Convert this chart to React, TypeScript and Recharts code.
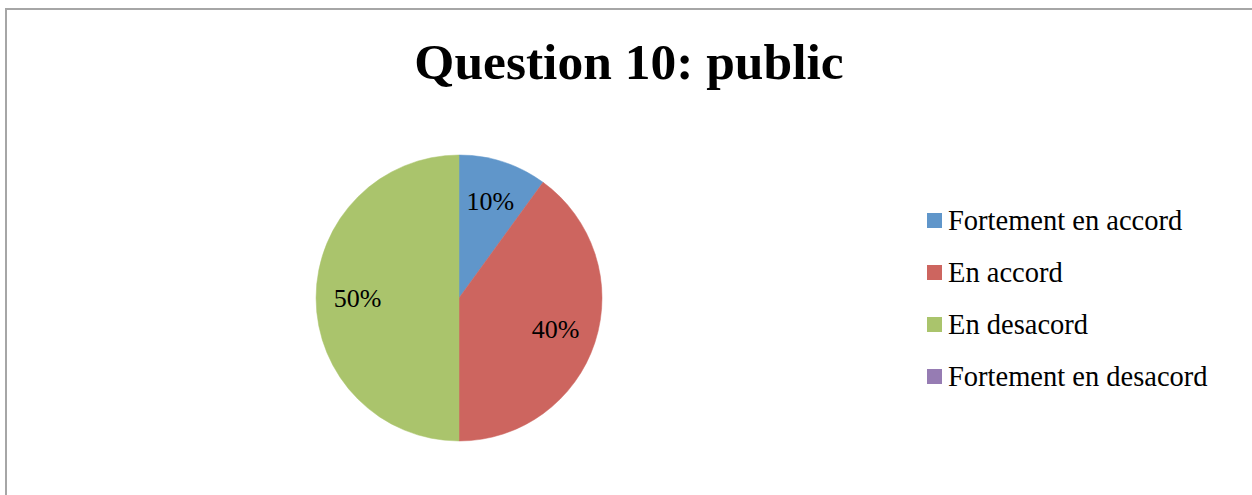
import { PieChart, Pie, Cell, Legend } from "recharts";

const categories = [
    "Fortement en accord",
    "En accord",
    "En desacord",
    "Fortement en desacord",
];
const shares = [10, 40, 50, 0];
const colors = ["#6096ca", "#cd655f", "#aac46c", "#967cb3"];

const data = categories.map((name, i) => ({ name, value: shares[i] }));

const RAD = Math.PI / 180;
const serif = '"Liberation Serif", "Times New Roman", serif';

function renderLabel(props: any) {
    const { cx, cy, midAngle, outerRadius, value } = props;
    if (!value) return null;
    const r = outerRadius * 0.71;
    const x = cx + r * Math.cos(-midAngle * RAD);
    const y = cy + r * Math.sin(-midAngle * RAD);
    return (
        <text
            x={x}
            y={y}
            textAnchor="middle"
            dominantBaseline="central"
            fill="#000"
            fontSize={26}
            fontFamily={serif}
        >
            {value}%
        </text>
    );
}

// legend keeps the original category order (recharts would sort it)
function renderLegend() {
    return (
        <div>
            {categories.map((name, i) => (
                <div
                    key={name}
                    style={{
                        display: "flex",
                        alignItems: "center",
                        height: 52,
                        fontFamily: serif,
                        fontSize: 28.5,
                        color: "#000",
                    }}
                >
                    <span
                        style={{
                            display: "inline-block",
                            width: 15,
                            height: 15,
                            background: colors[i],
                            marginRight: 6,
                            marginTop: -2,
                        }}
                    />
                    {name}
                </div>
            ))}
        </div>
    );
}

export default function App() {
    return (
        <div
            style={{
                position: "fixed",
                left: 0,
                top: 0,
                width: 1252,
                height: 495,
                overflow: "hidden",
                background: "#fff",
            }}
        >
            <div
                style={{
                    position: "absolute",
                    left: 5,
                    top: 8,
                    width: 1300,
                    height: 600,
                    border: "2px solid #a6a6a6",
                }}
            />
            <div
                style={{
                    position: "absolute",
                    left: 0,
                    width: 1258,
                    top: 32,
                    textAlign: "center",
                    fontFamily: serif,
                    fontWeight: "bold",
                    fontSize: 51.5,
                    lineHeight: "60px",
                    color: "#000",
                }}
            >
                Question 10: public
            </div>
            <div style={{ position: "absolute", left: 0, top: 0 }}>
                <PieChart
                    width={1252}
                    height={495}
                    margin={{ top: 0, right: 0, bottom: 0, left: 0 }}
                >
                    <Pie
                        data={data}
                        dataKey="value"
                        nameKey="name"
                        cx={459}
                        cy={298}
                        outerRadius={143}
                        startAngle={90}
                        endAngle={-270}
                        label={renderLabel}
                        labelLine={false}
                        isAnimationActive={false}
                    >
                        {data.map((d, i) => (
                            <Cell key={d.name} fill={colors[i]} stroke={colors[i]} strokeWidth={0.5} />
                        ))}
                    </Pie>
                    <Legend
                        content={renderLegend}
                        wrapperStyle={{ position: "absolute", left: 927, top: 195, width: 320 }}
                    />
                </PieChart>
            </div>
        </div>
    );
}
